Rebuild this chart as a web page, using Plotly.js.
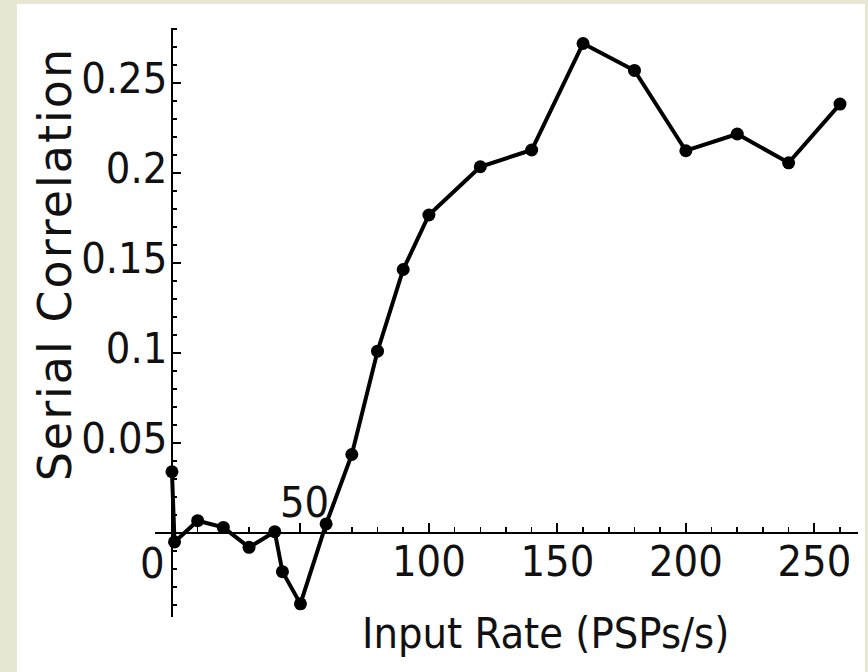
<!DOCTYPE html>
<html>
<head>
<meta charset="utf-8">
<script src="https://cdn.plot.ly/plotly-3.0.1.min.js"></script>
<style>
  html, body { margin: 0; padding: 0; background: #e7e7d3; width: 868px; height: 672px; overflow: hidden; }
  #chart { position: absolute; left: 17px; top: 4px; width: 848px; height: 668px; }
  g.annotation[data-index="3"] text.annotation-text { letter-spacing: 2px; }
</style>
</head>
<body>
<div id="chart"></div>
<script>
// Data
const inputRate = [0, 1, 10, 20, 30, 40, 43, 50, 60, 70, 80, 90, 100, 120, 140, 160, 180, 200, 220, 240, 260];
const serialCorr = [0.034, -0.005, 0.0068, 0.0031, -0.008, 0.0007, -0.0215, -0.0394, 0.005, 0.0436, 0.101, 0.1464, 0.1767, 0.2035, 0.2128, 0.272, 0.257, 0.2124, 0.2217, 0.2057, 0.2383];

const xTickVals = [0, 50, 100, 150, 200, 250];
const xTickText = ['0', '50', '100', '150', '200', '250'];
const yTickVals = [0.05, 0.1, 0.15, 0.2, 0.25];
const yTickText = ['0.05', '0.1', '0.15', '0.2', '0.25'];

const xTitle = 'Input Rate (PSPs/s)';
const yTitle = 'Serial Correlation';

const xRange = [-6.6, 267];
const yRange = [-0.0467, 0.2806];

const tickFont = { family: 'DejaVu Sans Condensed, sans-serif', size: 43, color: '#111' };

// labels at 0 and 50 are offset in the original (0 left of the y axis, 50 above the x axis)
const specialLabels = { 0: { xshift: -19, yshift: -30 }, 50: { xshift: 4, yshift: 31 } };

const annotations = [];
xTickVals.forEach((v, i) => {
  if (specialLabels[v]) {
    annotations.push({
      x: v, y: 0, xref: 'x', yref: 'y', text: xTickText[i], showarrow: false,
      xanchor: 'center', yanchor: 'middle',
      xshift: specialLabels[v].xshift, yshift: specialLabels[v].yshift,
      font: tickFont
    });
  }
});
annotations.push({
  x: 0.556, y: -0.027, xref: 'paper', yref: 'paper', text: xTitle, showarrow: false,
  xanchor: 'center', yanchor: 'middle',
  font: { family: 'DejaVu Sans Condensed, sans-serif', size: 43, color: '#111' }
});
annotations.push({
  x: -0.142, y: 0.599, xref: 'paper', yref: 'paper', text: yTitle, showarrow: false,
  textangle: -90, xanchor: 'center', yanchor: 'middle',
  font: { family: 'DejaVu Sans, sans-serif', size: 46, color: '#111' }
});

const trace = {
  x: inputRate, y: serialCorr, type: 'scatter', mode: 'lines+markers',
  line: { color: '#000', width: 4 },
  marker: { color: '#000', size: 13 },
  hoverinfo: 'skip'
};

const zeroFracY = (0 - yRange[0]) / (yRange[1] - yRange[0]);
const zeroFracX = (0 - xRange[0]) / (xRange[1] - xRange[0]);

const layout = {
  width: 848, height: 668,
  margin: { l: 138, r: 7, t: 24, b: 55 },
  paper_bgcolor: '#ffffff', plot_bgcolor: 'rgba(0,0,0,0)',
  showlegend: false,
  xaxis: {
    range: xRange, domain: [0, 1], anchor: 'free', position: zeroFracY,
    showgrid: false, zeroline: false, showline: true, linecolor: '#000', linewidth: 2.5,
    ticks: 'inside', ticklen: 9, tickwidth: 2, tickcolor: '#000',
    tickmode: 'array', tickvals: xTickVals,
    ticktext: xTickText.map((t, i) => specialLabels[xTickVals[i]] ? '' : t),
    tickfont: tickFont, ticklabelstandoff: -10,
    minor: { dtick: 10, tick0: 0, ticks: 'inside', ticklen: 5, tickwidth: 1.5, tickcolor: '#000' }
  },
  yaxis: {
    range: yRange, domain: [0, 1], anchor: 'free', position: zeroFracX,
    showgrid: false, zeroline: false, showline: true, linecolor: '#000', linewidth: 2.5,
    ticks: 'inside', ticklen: 8, tickwidth: 2, tickcolor: '#000',
    tickmode: 'array', tickvals: yTickVals, ticktext: yTickText,
    tickfont: tickFont, ticklabelstandoff: -5, ticklabelshift: -5,
    minor: { dtick: 0.01, tick0: 0, ticks: 'inside', ticklen: 4, tickwidth: 1.5, tickcolor: '#000' }
  },
  annotations: annotations
};

Plotly.newPlot('chart', [trace], layout, { displayModeBar: false, staticPlot: true });
</script>
</body>
</html>
